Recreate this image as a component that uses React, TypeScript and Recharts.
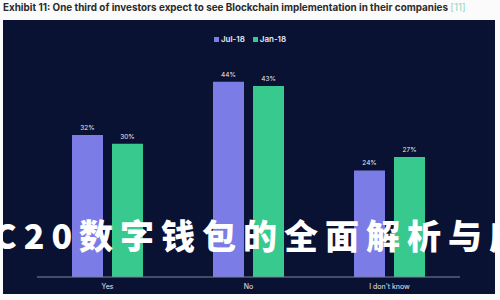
import React from "react";
import { BarChart, Bar, XAxis, YAxis, LabelList } from "recharts";

const categories = ["Yes", "No", "I don't know"];
const jul18 = [32, 44, 24];
const jan18 = [30, 43, 27];
const seriesNames = ["Jul-18", "Jan-18"];
const titleText =
  "Exhibit 11: One third of investors expect to see Blockchain implementation in their companies";
const titleRef = "[11]";
const overlayText = "C20数字钱包的全面解析与应";

const data = categories.map((c, i) => ({ name: c, jul: jul18[i], jan: jan18[i] }));

const PURPLE = "#7c7ce6";
const GREEN = "#38c98e";
const NAVY = "#0a1233";
const SERIES_COLORS = [PURPLE, GREEN];

export default function App() {
  return (
    <div
      style={{
        position: "absolute",
        left: 0,
        top: 0,
        width: 500,
        height: 300,
        background: "#fbfbfb",
        overflow: "hidden",
      }}
    >
      <div
        style={{
          position: "absolute",
          left: 3,
          top: 1,
          whiteSpace: "nowrap",
          fontFamily: "Inter, 'Liberation Sans', sans-serif",
          fontSize: 9.9,
          fontWeight: 700,
          color: "#2a2a2a",
        }}
      >
        {titleText} <span style={{ color: "#8fd8c4", fontWeight: 400 }}>{titleRef}</span>
      </div>
      <div
        style={{
          position: "absolute",
          left: 3,
          top: 20,
          width: 492,
          height: 274,
          background: NAVY,
        }}
      />
      {/* series legend */}
      <div
        style={{
          position: "absolute",
          left: 0,
          top: 34,
          width: 500,
          display: "flex",
          justifyContent: "center",
          gap: 8,
          fontFamily: "Inter, 'Noto Sans', sans-serif",
          fontSize: 8,
          fontWeight: 600,
          color: "#e8eaf4",
        }}
      >
        {seriesNames.map((n, i) => (
          <span key={n} style={{ display: "flex", alignItems: "center", gap: 2 }}>
            <span
              style={{ width: 5, height: 5, background: SERIES_COLORS[i], display: "inline-block" }}
            />
            {n}
          </span>
        ))}
      </div>
      <div style={{ position: "absolute", left: 0, top: 0 }}>
        <BarChart
          width={500}
          height={300}
          data={data}
          margin={{ top: 55, right: 40, bottom: 0, left: 37 }}
          barGap={9}
          barSize={31}
        >
          <XAxis
            dataKey="name"
            height={23}
            axisLine={{ stroke: "#7d849e", strokeWidth: 1 }}
            tickLine={false}
            tick={{ fill: "#e4e6f0", fontSize: 7, fontFamily: "Inter, sans-serif" }}
            tickMargin={1}
          />
          <YAxis hide domain={[0, 50]} />
          <Bar dataKey="jul" fill={PURPLE} isAnimationActive={false}>
            <LabelList
              dataKey="jul"
              position="top"
              offset={5}
              formatter={(v: number) => `${v}%`}
              style={{ fill: "#e8eaf4", fontSize: 6.5, fontFamily: "Inter, sans-serif" }}
            />
          </Bar>
          <Bar dataKey="jan" fill={GREEN} isAnimationActive={false}>
            <LabelList
              dataKey="jan"
              position="top"
              offset={5}
              formatter={(v: number) => `${v}%`}
              style={{ fill: "#e8eaf4", fontSize: 6.5, fontFamily: "Inter, sans-serif" }}
            />
          </Bar>
        </BarChart>
      </div>
      <div
        style={{
          position: "absolute",
          left: -6,
          top: 215,
          whiteSpace: "nowrap",
          fontFamily: "'Noto Sans CJK SC', sans-serif",
          fontSize: 34,
          fontWeight: 900,
          letterSpacing: 7,
          color: "#ffffff",
          lineHeight: "40px",
        }}
      >
        {overlayText}
      </div>
    </div>
  );
}
